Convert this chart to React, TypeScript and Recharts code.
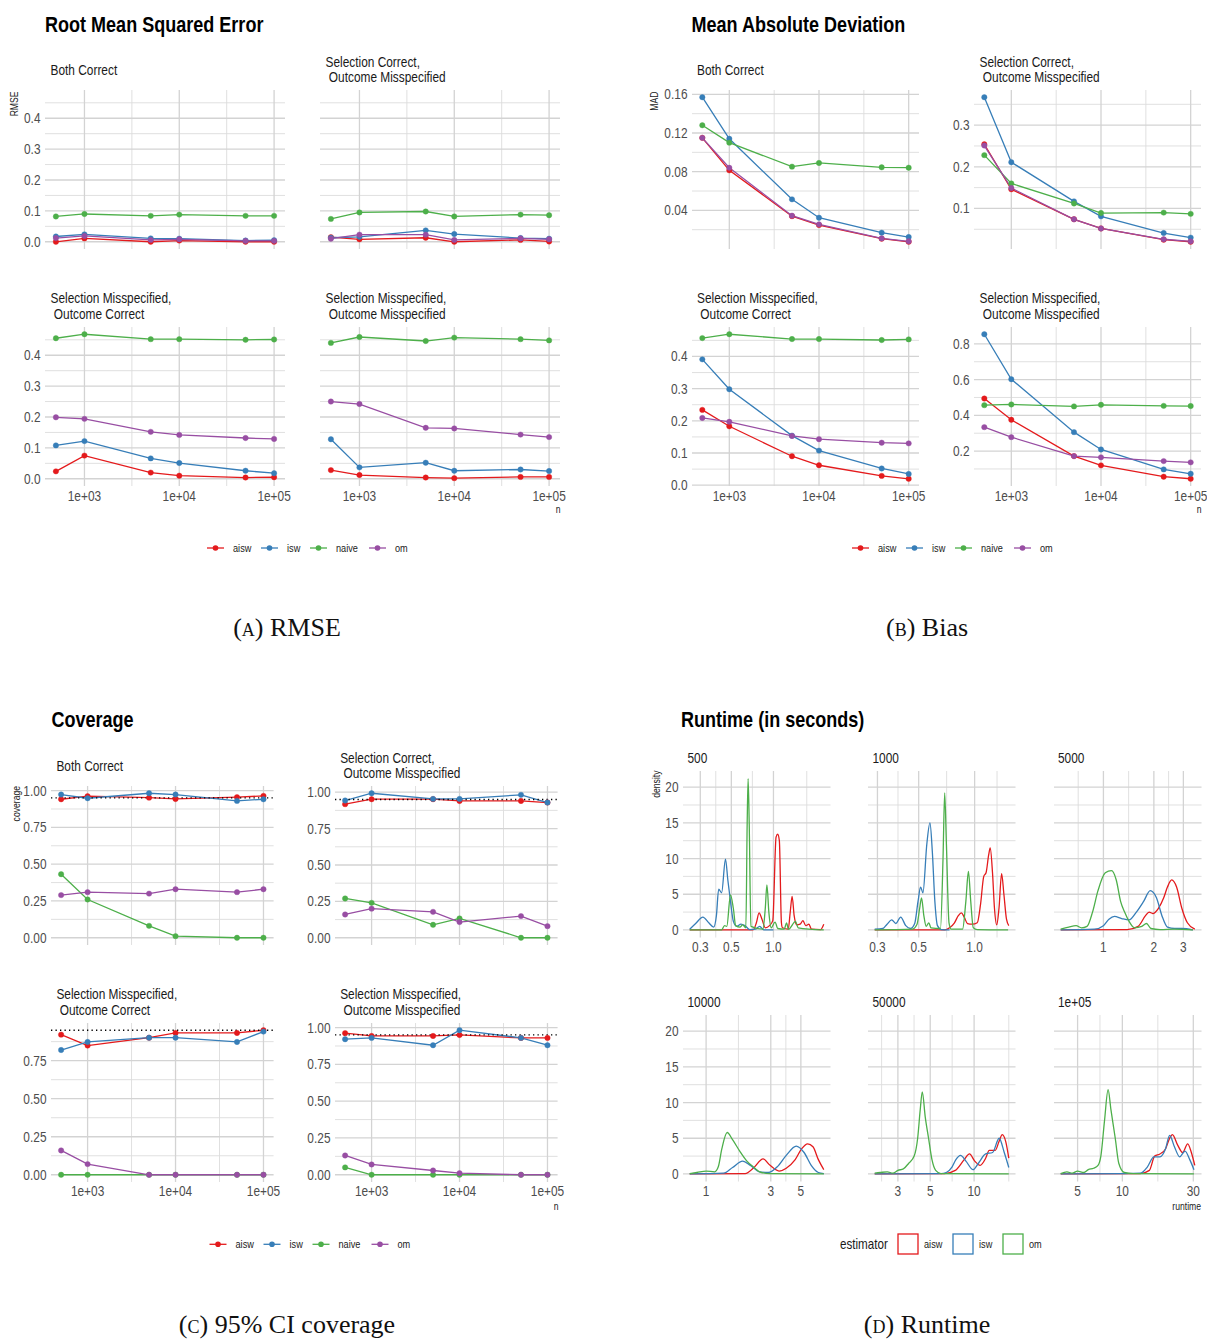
import React from "react";
import { LineChart, Line, XAxis, YAxis, ReferenceLine } from "recharts";

// ---------------- data ----------------
const estimators = ["aisw", "isw", "naive", "om"];
const nValues = [500, 1000, 5000, 10000, 50000, 100000];
const nTicks = [1000, 10000, 100000];
const nTickLabels = ["1e+03", "1e+04", "1e+05"];
const nMinor = [3162.28, 31622.8];

const facetTitles = [
  ["Both Correct"],
  ["Selection Correct,", " Outcome Misspecified"],
  ["Selection Misspecified,", " Outcome Correct"],
  ["Selection Misspecified,", " Outcome Misspecified"],
];

// RMSE
const rmseBothCorrect = {
  aisw: [0.0, 0.011, 0.0, 0.004, 0.0, 0.0],
  isw: [0.017, 0.024, 0.011, 0.01, 0.004, 0.005],
  naive: [0.082, 0.09, 0.084, 0.088, 0.084, 0.084],
  om: [0.012, 0.019, 0.006, 0.008, 0.003, 0.003],
};
const rmseSelCorrectOutMis = {
  aisw: [0.015, 0.008, 0.013, 0.0, 0.006, 0.001],
  isw: [0.013, 0.016, 0.037, 0.025, 0.012, 0.01],
  naive: [0.074, 0.095, 0.098, 0.082, 0.088, 0.086],
  om: [0.01, 0.023, 0.023, 0.006, 0.011, 0.008],
};
const rmseSelMisOutCorrect = {
  aisw: [0.024, 0.075, 0.02, 0.01, 0.004, 0.005],
  isw: [0.108, 0.122, 0.066, 0.051, 0.026, 0.018],
  naive: [0.455, 0.468, 0.452, 0.452, 0.45, 0.451],
  om: [0.199, 0.194, 0.152, 0.142, 0.132, 0.129],
};
const rmseSelMisOutMis = {
  aisw: [0.028, 0.012, 0.004, 0.002, 0.006, 0.006],
  isw: [0.128, 0.037, 0.052, 0.026, 0.03, 0.025],
  naive: [0.44, 0.459, 0.446, 0.457, 0.452, 0.448],
  om: [0.25, 0.242, 0.165, 0.163, 0.143, 0.135],
};
const rmseTicks = [0, 0.1, 0.2, 0.3, 0.4];
const rmseTickLabels = ["0.0", "0.1", "0.2", "0.3", "0.4"];
const rmseMinor = [0.05, 0.15, 0.25, 0.35, 0.45];

// MAD
const madBothCorrect = {
  aisw: [0.115, 0.0814, 0.034, 0.0248, 0.0107, 0.0075],
  isw: [0.157, 0.114, 0.0514, 0.0324, 0.0169, 0.0124],
  naive: [0.128, 0.11, 0.0852, 0.089, 0.0845, 0.0841],
  om: [0.115, 0.084, 0.0345, 0.0255, 0.011, 0.008],
};
const madSelCorrectOutMis = {
  aisw: [0.254, 0.146, 0.074, 0.052, 0.025, 0.02],
  isw: [0.367, 0.211, 0.117, 0.081, 0.041, 0.03],
  naive: [0.228, 0.16, 0.112, 0.089, 0.09, 0.087],
  om: [0.251, 0.149, 0.074, 0.052, 0.026, 0.021],
};
const madSelMisOutCorrect = {
  aisw: [0.234, 0.183, 0.09, 0.062, 0.029, 0.02],
  isw: [0.391, 0.298, 0.154, 0.1075, 0.052, 0.035],
  naive: [0.457, 0.469, 0.454, 0.454, 0.451, 0.453],
  om: [0.209, 0.197, 0.153, 0.143, 0.132, 0.13],
};
const madSelMisOutMis = {
  aisw: [0.494, 0.375, 0.172, 0.12, 0.0565, 0.045],
  isw: [0.854, 0.602, 0.306, 0.209, 0.0975, 0.073],
  naive: [0.457, 0.461, 0.45, 0.459, 0.453, 0.452],
  om: [0.334, 0.278, 0.172, 0.165, 0.144, 0.137],
};
const madTicks = [
  [0.04, 0.08, 0.12, 0.16],
  [0.1, 0.2, 0.3],
  [0, 0.1, 0.2, 0.3, 0.4],
  [0.2, 0.4, 0.6, 0.8],
];
const madTickLabels = [
  ["0.04", "0.08", "0.12", "0.16"],
  ["0.1", "0.2", "0.3"],
  ["0.0", "0.1", "0.2", "0.3", "0.4"],
  ["0.2", "0.4", "0.6", "0.8"],
];
const madMinor = [
  [0.02, 0.06, 0.1, 0.14],
  [0.05, 0.15, 0.25, 0.35],
  [0.05, 0.15, 0.25, 0.35, 0.45],
  [0.1, 0.3, 0.5, 0.7],
];

// coverage
const covBothCorrect = {
  aisw: [0.941, 0.962, 0.952, 0.943, 0.955, 0.964],
  isw: [0.973, 0.948, 0.982, 0.973, 0.93, 0.941],
  naive: [0.432, 0.26, 0.081, 0.011, 0.0, 0.0],
  om: [0.29, 0.31, 0.3, 0.33, 0.31, 0.33],
};
const covSelCorrectOutMis = {
  aisw: [0.918, 0.952, 0.952, 0.94, 0.94, 0.929],
  isw: [0.943, 0.993, 0.954, 0.954, 0.982, 0.929],
  naive: [0.27, 0.24, 0.089, 0.133, 0.0, 0.0],
  om: [0.16, 0.2, 0.178, 0.108, 0.149, 0.08],
};
const covSelMisOutCorrect = {
  aisw: [0.921, 0.849, 0.901, 0.932, 0.932, 0.95],
  isw: [0.82, 0.873, 0.901, 0.901, 0.873, 0.941],
  naive: [0.0, 0.0, 0.0, 0.0, 0.0, 0.0],
  om: [0.16, 0.07, 0.0, 0.0, 0.0, 0.0],
};
const covSelMisOutMis = {
  aisw: [0.962, 0.943, 0.943, 0.95, 0.93, 0.93],
  isw: [0.921, 0.93, 0.88, 0.982, 0.93, 0.88],
  naive: [0.05, 0.0, 0.0, 0.0, 0.0, 0.0],
  om: [0.131, 0.07, 0.029, 0.011, 0.0, 0.0],
};
const covNominal = 0.95;
const covTicks = [0, 0.25, 0.5, 0.75, 1.0];
const covTickLabels = ["0.00", "0.25", "0.50", "0.75", "1.00"];
const covMinor = [0.125, 0.375, 0.625, 0.875];

// runtime densities: [runtime (s), density]
const rtEstimators = ["aisw", "isw", "om"];
const rtFacets = ["500", "1000", "5000", "10000", "50000", "1e+05"];
const rt500 = {
  aisw: [[0.252, 0], [0.715, 0], [0.755, 1.0], [0.789, 2.4], [0.828, 1.5], [0.874, 0.3], [0.937, 0.6], [0.989, 1.3], [1.044, 13.0], [1.073, 13.4], [1.102, 12.5], [1.14, 1.0], [1.16, 0.3], [1.275, 0.1], [1.318, 2.5], [1.36, 4.7], [1.406, 2.0], [1.468, 0.7], [1.55, 0.8], [1.626, 1.3], [1.7, 0.6], [1.793, 0.8], [1.87, 0.1], [2.17, 0.05], [2.29, 0.8]],
  isw: [[0.252, 0.1], [0.278, 0.9], [0.313, 1.8], [0.345, 1.0], [0.374, 0.4], [0.391, 2.0], [0.406, 5.7], [0.426, 5.2], [0.454, 9.9], [0.472, 7.0], [0.493, 4.0], [0.517, 1.2], [0.546, 0.5], [0.586, 0.8], [0.625, 0.6], [0.678, 0.05], [0.743, 0.1], [0.797, 0.5], [0.855, 0], [1.0, 0]],
  om: [[0.252, 0], [0.426, 0], [0.447, 0.6], [0.464, 0.5], [0.493, 4.9], [0.517, 3.0], [0.537, 0.6], [0.576, 0.4], [0.602, 0.7], [0.635, 0.3], [0.649, 15], [0.659, 21.2], [0.671, 15], [0.69, 0.5], [0.841, 0.1], [0.874, 3], [0.898, 6.3], [0.927, 2.5], [0.963, 0.3], [1.027, 1.1], [1.073, 0.2], [1.195, 0.1], [1.24, 1.0], [1.28, 0.1], [1.44, 1.2], [1.5, 0.3], [2.29, 0]],
};
const rt1000 = {
  aisw: [[0.29, 0], [0.69, 0], [0.733, 0.3], [0.779, 1.0], [0.817, 2.0], [0.848, 2.4], [0.879, 1.8], [0.915, 0.9], [0.972, 0.8], [1.033, 1.0], [1.075, 3.5], [1.12, 7.5], [1.152, 8.0], [1.19, 10.5], [1.213, 11.5], [1.248, 8], [1.279, 3], [1.315, 0.7], [1.352, 3], [1.397, 7.9], [1.437, 5], [1.484, 1.5], [1.527, 0.6]],
  isw: [[0.29, 0.1], [0.321, 0.2], [0.338, 0.8], [0.358, 1.4], [0.377, 0.9], [0.4, 1.8], [0.426, 0.6], [0.452, 0.2], [0.476, 0.9], [0.496, 4.0], [0.512, 6.0], [0.527, 5.2], [0.553, 12], [0.575, 15.0], [0.592, 11], [0.611, 4], [0.631, 0.6], [0.662, 0.05], [0.733, 0]],
  om: [[0.29, 0], [0.461, 0.1], [0.49, 0.8], [0.506, 3.0], [0.518, 4.5], [0.533, 2.0], [0.549, 0.5], [0.567, 1.0], [0.582, 0.3], [0.655, 0.2], [0.676, 10], [0.69, 19.2], [0.705, 12], [0.728, 1], [0.748, 0.1], [0.861, 0.1], [0.897, 4], [0.926, 8.2], [0.953, 4], [0.984, 0.3], [1.033, 0.05], [1.514, 0]],
};
const rt5000 = {
  aisw: [[0.556, 0], [1.387, 0.05], [1.612, 0.5], [1.783, 2.0], [1.874, 2.5], [1.97, 2.3], [2.125, 3.0], [2.29, 4.5], [2.41, 6.0], [2.556, 7.0], [2.733, 6.0], [2.94, 3.0], [3.17, 1.0], [3.51, 0.1]],
  isw: [[0.556, 0], [0.882, 0.1], [1.0, 0.6], [1.079, 1.5], [1.163, 1.9], [1.285, 1.6], [1.422, 1.4], [1.573, 2.5], [1.738, 4.0], [1.903, 5.5], [2.073, 4.5], [2.234, 2.0], [2.41, 0.4], [2.66, 0.2], [2.94, 0.2], [3.42, 0]],
  om: [[0.556, 0.1], [0.621, 0.4], [0.687, 0.6], [0.74, 0.3], [0.798, 0.5], [0.861, 2.5], [0.928, 5.5], [1.026, 8.0], [1.117, 8.3], [1.193, 7.0], [1.266, 4.0], [1.338, 2.5], [1.422, 1.2], [1.532, 0.3], [1.694, 0.5], [1.808, 0.9], [1.921, 0.2], [2.18, 0.05], [2.66, 0.1], [3.42, 0]],
};
const rt10000 = {
  aisw: [[0.757, 0], [1.94, 0.05], [2.256, 0.9], [2.63, 2.1], [2.965, 1.2], [3.45, 0.4], [3.9, 0.8], [4.54, 2.0], [5.06, 3.5], [5.61, 4.2], [6.14, 3.8], [6.73, 2.0], [7.38, 0.6]],
  isw: [[0.757, 0], [1.346, 0.1], [1.567, 0.9], [1.858, 1.8], [2.124, 1.2], [2.47, 0.3], [2.876, 0.2], [3.35, 1.0], [3.9, 2.6], [4.62, 3.9], [5.28, 3.0], [5.96, 1.2], [6.73, 0.2], [7.38, 0.05]],
  om: [[0.757, 0.05], [0.855, 0.2], [1.0, 0.4], [1.156, 0.3], [1.23, 1.0], [1.306, 3.5], [1.43, 5.8], [1.567, 4.8], [1.77, 3.2], [2.0, 1.8], [2.256, 0.9], [2.55, 0.2], [2.965, 0.05], [7.38, 0]],
};
const rt50000 = {
  aisw: [[2.08, 0], [6.27, 0.05], [7.43, 0.5], [8.55, 2.0], [9.3, 2.8], [10.1, 1.8], [11.0, 1.2], [12.0, 2.2], [12.7, 3.3], [13.96, 3.3], [14.8, 4.5], [15.6, 5.5], [16.5, 4.5], [17.3, 2.2]],
  isw: [[2.08, 0], [5.92, 0.05], [6.44, 0.2], [7.07, 1.0], [7.5, 2.0], [8.07, 2.6], [8.79, 1.8], [9.84, 0.6], [10.7, 1.5], [12.0, 2.8], [13.4, 3.0], [14.85, 5.0], [16.1, 3.0], [17.3, 0.9]],
  om: [[2.08, 0.1], [2.27, 0.2], [2.54, 0.3], [2.77, 0.1], [3.0, 0.5], [3.27, 0.7], [3.56, 1.5], [3.88, 2.5], [4.1, 5.0], [4.27, 9], [4.41, 11.5], [4.62, 8], [4.87, 5.0], [5.14, 2.0], [5.45, 0.5], [5.92, 0.05], [17.3, 0]],
};
const rt100000 = {
  aisw: [[3.85, 0], [13.2, 0.05], [15.2, 0.5], [16.5, 2.5], [17.9, 2.8], [19.5, 3.5], [20.8, 5.0], [21.7, 5.5], [23.6, 4.0], [25.4, 3.0], [27.5, 4.2], [29.1, 3.0], [30.7, 1.2]],
  isw: [[3.85, 0], [10, 0.05], [13.2, 0.1], [14.75, 1.0], [16.3, 2.4], [17.9, 2.4], [19.5, 3.5], [20.8, 5.4], [22.4, 3.8], [24.3, 2.4], [26.4, 3.2], [28.4, 2.0], [30.3, 0.6]],
  om: [[3.85, 0.05], [4.24, 0.3], [4.6, 0.1], [5.0, 0.4], [5.5, 0.2], [5.9, 0.6], [6.41, 0.8], [6.86, 1.2], [7.17, 2.5], [7.59, 7.5], [8.02, 11.8], [8.38, 9], [8.96, 5.0], [9.46, 1.5], [10.3, 0.2], [11.8, 0.05], [30.3, 0]],
};
const rtXTicks = [[0.3, 0.5, 1], [0.3, 0.5, 1], [1, 2, 3], [1, 3, 5], [3, 5, 10], [5, 10, 30]];
const rtXTickLabels = [["0.3", "0.5", "1.0"], ["0.3", "0.5", "1.0"], ["1", "2", "3"], ["1", "3", "5"], ["3", "5", "10"], ["5", "10", "30"]];
const rtXMinor = [[0.387, 0.707, 1.73], [0.387, 0.707, 1.32], [0.707, 1.414, 2.449], [1.732, 3.873], [2.32, 3.873, 7.07, 17.3], [7.07, 17.32]];
const rtYTicks = [0, 5, 10, 15, 20];
const rtYTickLabels = ["0", "5", "10", "15", "20"];
const rtYMinor = [2.5, 7.5, 12.5, 17.5];

// ---------------- styling / layout ----------------
const COLORS: Record<string, string> = { aisw: "#E41A1C", isw: "#377EB8", naive: "#4DAF4A", om: "#984EA3" };
const FONT = "'Liberation Sans', Arial, sans-serif";
const NARROW = 0.82; // Arial Narrow look
const PAD = { l: 44, r: 24, t: 6, b: 24 };
const MAJOR = { stroke: "#d3d3d3", w: 1.3 };
const MINOR = { stroke: "#dcdcdc", w: 0.9 };

const padLin = (vals: number[]): [number, number] => {
  const lo = Math.min(...vals), hi = Math.max(...vals), d = (hi - lo) * 0.05;
  return [lo - d, hi + d];
};
const padLog = (vals: number[]): [number, number] => {
  const lo = Math.log10(Math.min(...vals)), hi = Math.log10(Math.max(...vals)), d = (hi - lo) * 0.05;
  return [10 ** (lo - d), 10 ** (hi + d)];
};
const allVals = (f: Record<string, number[]>) => Object.values(f).flat();

type Pt = { x: number; y: number };
type Series = { name: string; color: string; points: Pt[]; dots: boolean };

const simSeries = (facet: Record<string, number[]>): Series[] =>
  estimators.map((e) => ({ name: e, color: COLORS[e], dots: true, points: nValues.map((n, i) => ({ x: n, y: facet[e][i] })) }));
const rtSeries = (facet: Record<string, number[][]>): Series[] =>
  rtEstimators.map((e) => ({ name: e, color: COLORS[e === "om" ? "naive" : e], dots: false, points: facet[e].map(([x, y]) => ({ x, y })) }));

function Txt({ x, y, size, children, anchor = "start", weight = 400, color = "#1a1a1a", rotate = false }: any) {
  return (
    <text
      transform={`translate(${x} ${y})${rotate ? " rotate(-90)" : ""} scale(${NARROW} 1)`}
      fontSize={size}
      fontWeight={weight}
      textAnchor={anchor}
      fill={color}
      fontFamily={FONT}
    >
      {children}
    </text>
  );
}

type PanelProps = {
  rect: number[];
  xDomain: [number, number];
  xTicks: number[];
  xLabels: string[];
  xMinor: number[];
  showX: boolean;
  showY: boolean;
  yDomain: [number, number];
  yTicks: number[];
  yLabels: string[];
  yMinor: number[];
  series: Series[];
  hline?: number;
  curve: "linear" | "monotone";
};

function Panel({ rect, xDomain, xTicks, xLabels, xMinor, showX, showY, yDomain, yTicks, yLabels, yMinor, series, hline, curve }: PanelProps) {
  const [px, py, pw, ph] = rect;
  const W = PAD.l + pw + PAD.r;
  const H = PAD.t + ph + PAD.b;
  const inY = (v: number) => v >= yDomain[0] && v <= yDomain[1];
  const yt = yTicks.filter(inY);
  const label = (ticks: number[], labels: string[], v: number) => {
    const i = ticks.findIndex((t) => Math.abs(t - v) <= Math.abs(t) * 1e-6 + 1e-9);
    return i >= 0 ? labels[i] : "";
  };
  const xTick = (p: any) => (
    <Txt x={p.x} y={PAD.t + ph + 14.5} size={14.5} anchor="middle" color="#4d4d4d">
      {label(xTicks, xLabels, p.payload.value)}
    </Txt>
  );
  const yTick = (p: any) => (
    <Txt x={PAD.l - 4.5} y={p.y + 5} size={14.5} anchor="end" color="#4d4d4d">
      {label(yTicks, yLabels, p.payload.value)}
    </Txt>
  );
  return (
    <div style={{ position: "absolute", left: px - PAD.l, top: py - PAD.t }}>
      <LineChart width={W} height={H} margin={{ top: PAD.t, right: PAD.r, left: 0, bottom: 0 }}>
        <XAxis
          type="number"
          dataKey="x"
          scale="log"
          domain={xDomain}
          allowDataOverflow
          ticks={xTicks}
          interval={0}
          axisLine={false}
          tickLine={false}
          height={PAD.b}
          tick={showX ? xTick : false}
        />
        <YAxis
          type="number"
          domain={yDomain}
          allowDataOverflow
          ticks={yt}
          interval={0}
          axisLine={false}
          tickLine={false}
          width={PAD.l}
          tick={showY ? yTick : false}
        />
        {yMinor.map((v) => (
          <ReferenceLine key={"ym" + v} y={v} stroke={MINOR.stroke} strokeWidth={MINOR.w} />
        ))}
        {xMinor.map((v) => (
          <ReferenceLine key={"xm" + v} x={v} stroke={MINOR.stroke} strokeWidth={MINOR.w} />
        ))}
        {yt.map((v) => (
          <ReferenceLine key={"y" + v} y={v} stroke={MAJOR.stroke} strokeWidth={MAJOR.w} />
        ))}
        {xTicks.map((v) => (
          <ReferenceLine key={"x" + v} x={v} stroke={MAJOR.stroke} strokeWidth={MAJOR.w} />
        ))}
        {series.map((s) => (
          <Line
            key={s.name}
            name={s.name}
            data={s.points}
            dataKey="y"
            type={curve}
            stroke={s.color}
            strokeWidth={1.3}
            dot={s.dots ? { r: 2.7, fill: s.color, stroke: s.color, strokeWidth: 0.4 } : false}
            activeDot={false}
            isAnimationActive={false}
          />
        ))}
        {hline !== undefined && (
          <ReferenceLine y={hline} stroke="#000" strokeWidth={1.3} strokeDasharray="1.3 3.2" />
        )}
      </LineChart>
    </div>
  );
}

// quadrant layouts (page px)
const A = { cols: [45, 320], w: 240, rows: [90, 326.5], h: 159 };
const B = { cols: [691.5, 974], w: 227, rows: [90, 326.5], h: 159 };
const C = { cols: [51.4, 335.2], w: 222.6, rows: [786, 1022.5], h: 159 };
const D = { cols: [683, 868, 1053.5], w: 147.5, rows: [770.5, 1014.5], h: 166.5 };

const nDomain = padLog(nValues);
const rmseFacets = [rmseBothCorrect, rmseSelCorrectOutMis, rmseSelMisOutCorrect, rmseSelMisOutMis];
const madFacets = [madBothCorrect, madSelCorrectOutMis, madSelMisOutCorrect, madSelMisOutMis];
const covFacets = [covBothCorrect, covSelCorrectOutMis, covSelMisOutCorrect, covSelMisOutMis];
const rtData = [rt500, rt1000, rt5000, rt10000, rt50000, rt100000];

const rmseDomain = padLin(rmseFacets.flatMap(allVals));
const rtYDomain = padLin(rtData.flatMap((f) => Object.values(f).flat().map((p) => p[1])));

function StripLabels({ L, x0 = 5.5 }: any) {
  return (
    <>
      {facetTitles.map((lines, i) => {
        const x = L.cols[i % 2] + x0;
        const top = L.rows[Math.floor(i / 2)];
        if (lines.length === 1)
          return (
            <Txt key={i} x={x} y={top - 15} size={14.5}>
              {lines[0]}
            </Txt>
          );
        return (
          <g key={i}>
            <Txt x={x} y={top - 23.3} size={14.5}>
              {lines[0]}
            </Txt>
            <Txt x={x + 3.3} y={top - 7.7} size={14.5}>
              {lines[1].trim()}
            </Txt>
          </g>
        );
      })}
    </>
  );
}

function PointLegend({ x, y }: { x: number; y: number }) {
  const offs = [0, 54, 103, 162];
  return (
    <>
      {estimators.map((e, i) => (
        <g key={e}>
          <line x1={x + offs[i]} x2={x + offs[i] + 17} y1={y} y2={y} stroke={COLORS[e]} strokeWidth={1.3} />
          <circle cx={x + offs[i] + 8.5} cy={y} r={2.8} fill={COLORS[e]} />
          <Txt x={x + offs[i] + 26} y={y + 4} size={11.2}>
            {e}
          </Txt>
        </g>
      ))}
    </>
  );
}

function Caption({ x, y, label, text }: any) {
  return (
    <text x={x} y={y} textAnchor="middle" fontSize={26} fontFamily="'Liberation Serif', 'DejaVu Serif', serif" fill="#111">
      <tspan style={{ fontVariant: "small-caps" }}>({label})</tspan> {text}
    </text>
  );
}

export default function App() {
  const simPanels = (
    L: any,
    facets: any[],
    fixedY: boolean,
    yDom: (i: number) => [number, number],
    ticks: (i: number) => number[],
    labels: (i: number) => string[],
    minor: (i: number) => number[],
    hline?: number
  ) =>
    facets.map((f, i) => (
      <Panel
        key={i}
        rect={[L.cols[i % 2], L.rows[Math.floor(i / 2)], L.w, L.h]}
        xDomain={nDomain}
        xTicks={nTicks}
        xLabels={nTickLabels}
        xMinor={nMinor}
        showX={i >= 2}
        showY={!fixedY || i % 2 === 0}
        yDomain={yDom(i)}
        yTicks={ticks(i)}
        yLabels={labels(i)}
        yMinor={minor(i)}
        series={simSeries(f)}
        hline={hline}
        curve="linear"
      />
    ));

  return (
    <div style={{ position: "absolute", left: 0, top: 0, width: 1207, height: 1339, background: "#fff", overflow: "hidden" }}>
      {simPanels(A, rmseFacets, true, () => rmseDomain, () => rmseTicks, () => rmseTickLabels, () => rmseMinor)}
      {simPanels(B, madFacets, false, (i) => padLin(allVals(madFacets[i])), (i) => madTicks[i], (i) => madTickLabels[i], (i) => madMinor[i])}
      {simPanels(
        C,
        covFacets,
        false,
        (i) => padLin([...allVals(covFacets[i]), covNominal]),
        () => covTicks,
        () => covTickLabels,
        () => covMinor,
        covNominal
      )}
      {rtData.map((f, i) => {
        const pts = Object.values(f).flat().map((p) => p[0]);
        return (
          <Panel
            key={"rt" + i}
            rect={[D.cols[i % 3], D.rows[Math.floor(i / 3)], D.w, D.h]}
            xDomain={padLog(pts)}
            xTicks={rtXTicks[i]}
            xLabels={rtXTickLabels[i]}
            xMinor={rtXMinor[i]}
            showX
            showY={i % 3 === 0}
            yDomain={rtYDomain}
            yTicks={rtYTicks}
            yLabels={rtYTickLabels}
            yMinor={rtYMinor}
            series={rtSeries(f)}
            curve="monotone"
          />
        );
      })}

      <svg width={1207} height={1339} style={{ position: "absolute", left: 0, top: 0, pointerEvents: "none" }}>
        {/* A */}
        <Txt x={45} y={31.7} size={22} weight={700} color="#000">Root Mean Squared Error</Txt>
        <StripLabels L={A} />
        <Txt x={18.3} y={91.5} size={10.5} anchor="end" rotate>RMSE</Txt>
        <Txt x={560.5} y={513.3} size={10.5} anchor="end">n</Txt>
        <PointLegend x={207} y={548} />
        <Caption x={287} y={636} label="a" text="RMSE" />

        {/* B */}
        <Txt x={691.5} y={31.7} size={22} weight={700} color="#000">Mean Absolute Deviation</Txt>
        <StripLabels L={B} />
        <Txt x={658} y={91.5} size={10.5} anchor="end" rotate>MAD</Txt>
        <Txt x={1201.5} y={513.3} size={10.5} anchor="end">n</Txt>
        <PointLegend x={852} y={548} />
        <Caption x={927} y={636} label="b" text="Bias" />

        {/* C */}
        <Txt x={51.4} y={727.3} size={22} weight={700} color="#000">Coverage</Txt>
        <StripLabels L={C} x0={5} />
        <Txt x={19.8} y={786} size={10.5} anchor="end" rotate>coverage</Txt>
        <Txt x={558.5} y={1209.5} size={10.5} anchor="end">n</Txt>
        <PointLegend x={209.5} y={1244.3} />
        <Caption x={287} y={1333} label="c" text="95% CI coverage" />

        {/* D */}
        <Txt x={681} y={727.3} size={22} weight={700} color="#000">Runtime (in seconds)</Txt>
        {rtFacets.map((t, i) => (
          <Txt key={t} x={D.cols[i % 3] + 4.5} y={D.rows[Math.floor(i / 3)] - 7.8} size={14.5}>
            {t}
          </Txt>
        ))}
        <Txt x={660} y={770.5} size={10.5} anchor="end" rotate>density</Txt>
        <Txt x={1201} y={1210} size={10.5} anchor="end">runtime</Txt>
        <Txt x={840} y={1249} size={14.2}>estimator</Txt>
        {rtEstimators.map((e, i) => {
          const bx = [898, 953, 1003][i];
          return (
            <g key={e}>
              <rect x={bx} y={1234} width={20} height={20} fill="#fff" stroke={COLORS[e === "om" ? "naive" : e]} strokeWidth={1.3} />
              <Txt x={bx + 26} y={1248} size={11.2}>{e}</Txt>
            </g>
          );
        })}
        <Caption x={927} y={1333} label="d" text="Runtime" />
      </svg>
    </div>
  );
}
